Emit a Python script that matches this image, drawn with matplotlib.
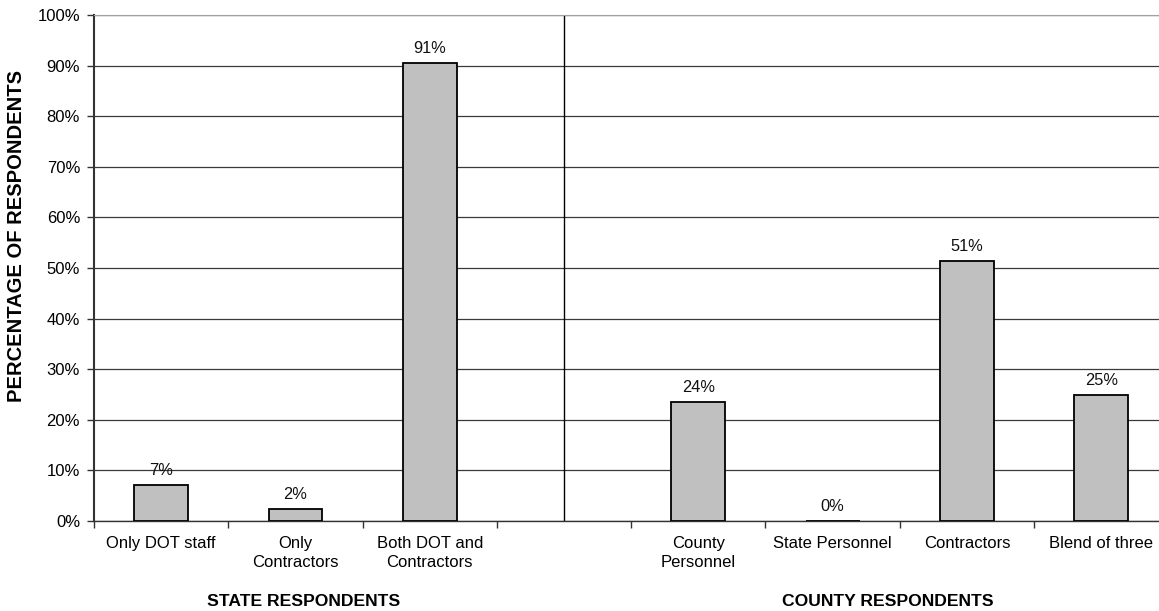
import numpy as np
import matplotlib.pyplot as plt
from matplotlib.ticker import FixedLocator, PercentFormatter

plt.rcParams['font.family'] = ['Liberation Sans', 'DejaVu Sans']

state_labels = ["Only DOT staff", "Only\nContractors", "Both DOT and\nContractors"]
state_values = [7.05, 2.4, 90.5]
state_text = ["7%", "2%", "91%"]

county_labels = ["County\nPersonnel", "State Personnel", "Contractors", "Blend of three"]
county_values = [23.5, 0.0, 51.4, 25.0]
county_text = ["24%", "0%", "51%", "25%"]


def main() -> None:
    W, H = 1159, 611
    fig = plt.figure(figsize=(W / 100, H / 100), dpi=100)
    # plot area runs a little past the right edge of the figure
    ax = fig.add_axes([94 / W, 90 / H, 1074.4 / W, 506 / H])

    # slot 3 is left empty and holds the divider between the two groups
    xs_state = np.arange(len(state_values))
    xs_county = np.arange(len(county_values)) + len(state_values) + 1
    xs = np.concatenate([xs_state, xs_county])
    values = state_values + county_values
    texts = state_text + county_text
    labels = state_labels + county_labels

    ax.bar(xs, values, width=0.40, color="#c0c0c0", edgecolor="black",
           linewidth=1.3, zorder=3)
    for x, v, t in zip(xs, values, texts):
        ax.annotate(t, (x, v), xytext=(0, 5), textcoords="offset points",
                    ha="center", va="bottom", fontsize=11.8, color="#111111")

    divider = len(state_values)
    ax.axvline(divider, color="black", linewidth=1.0, zorder=2)

    ax.set_xlim(-0.5, 7.5)
    ax.set_ylim(0, 100)
    ax.set_yticks(np.arange(0, 101, 10))
    ax.yaxis.set_major_formatter(PercentFormatter(decimals=0))
    ax.grid(axis="y", color="#3a3a3a", linewidth=0.9, zorder=1)

    ax.set_xticks(xs)
    ax.set_xticklabels(labels, fontsize=12, linespacing=1.3)
    ax.xaxis.set_minor_locator(FixedLocator(np.arange(-0.5, 8.0, 1.0)))
    ax.tick_params(axis="x", which="major", length=0, pad=11)
    ax.tick_params(axis="x", which="minor", length=5, width=1.0,
                   color="#333333")
    ax.tick_params(axis="y", length=5, width=1.0, color="#333333",
                   labelsize=12, pad=5)

    ax.spines["right"].set_visible(False)
    ax.spines["top"].set_color("#a0a0a0")
    ax.spines["left"].set_color("#333333")
    ax.spines["left"].set_linewidth(1.5)
    ax.spines["bottom"].set_color("#333333")
    ax.spines["bottom"].set_linewidth(1.0)

    fig.text(17 / W, 1 - 236 / H, "PERCENTAGE OF RESPONDENTS", rotation=90,
             ha="center", va="center", fontsize=14.5, fontweight="bold")

    fig.text(304 / W, 1 - 601 / H, "STATE RESPONDENTS", ha="center",
             va="center", fontsize=12.6, fontweight="bold")
    fig.text(888 / W, 1 - 601 / H, "COUNTY RESPONDENTS", ha="center",
             va="center", fontsize=12.6, fontweight="bold")

    fig.savefig("out.png", dpi=100, facecolor="white")


if __name__ == "__main__":
    main()
